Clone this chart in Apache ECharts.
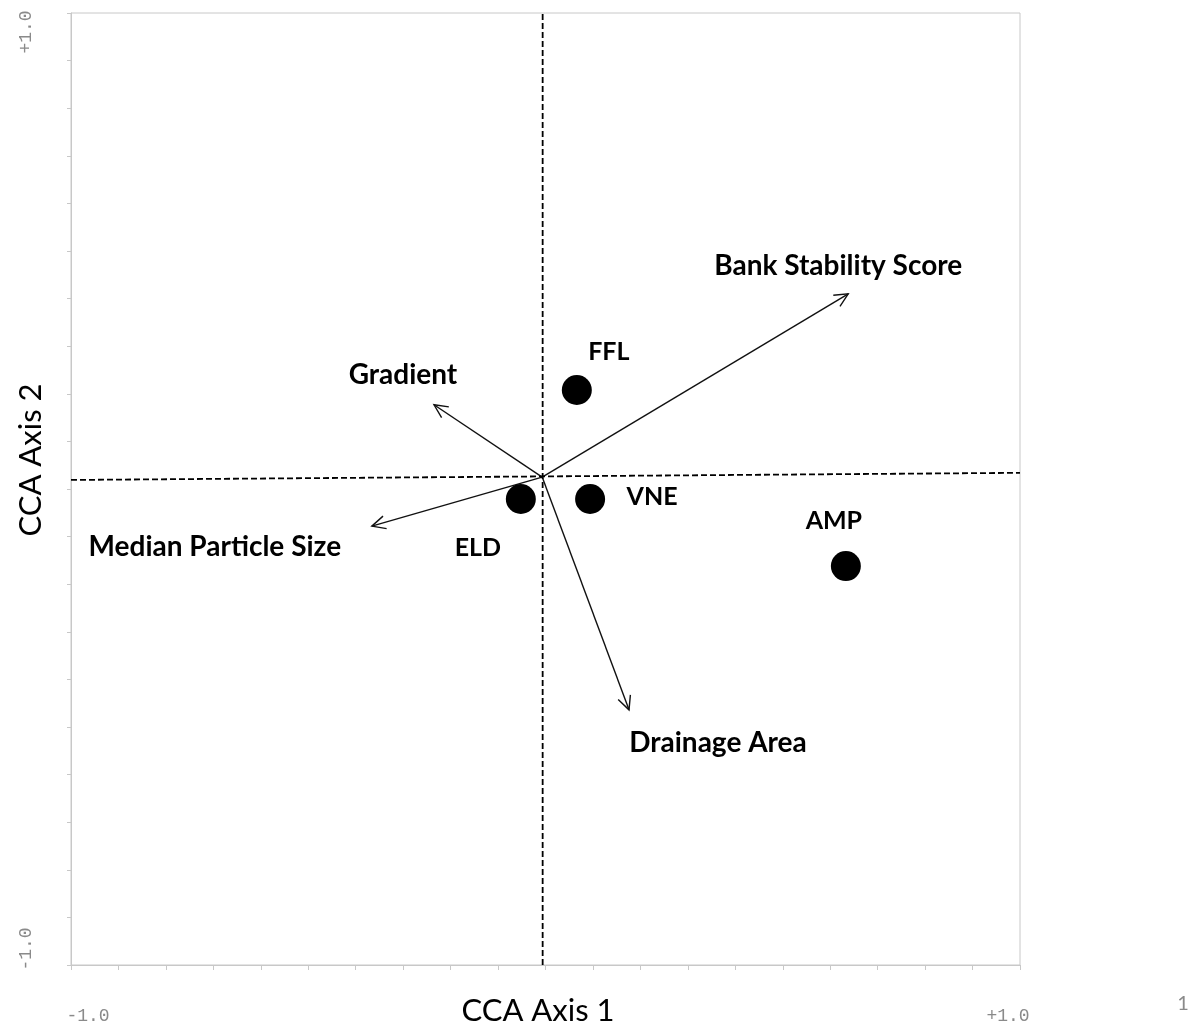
<!DOCTYPE html>
<html>
<head>
<meta charset="utf-8">
<title>CCA biplot</title>
<script src="https://cdn.jsdelivr.net/npm/echarts@6/dist/echarts.min.js"></script>
<style>
  html, body { margin: 0; padding: 0; background: #fff; }
  #chart { width: 1193px; height: 1028px; }
</style>
</head>
<body>
<div id="chart"></div>
<script>
// Site scores (CCA axis 1, CCA axis 2)
const siteNames = ['FFL', 'ELD', 'VNE', 'AMP'];
const siteX = [0.066, -0.052, 0.094, 0.633];
const siteY = [0.208, -0.021, -0.021, -0.162];

// Environmental vectors: common origin and arrow tips
const vectorOrigin = [-0.007, 0.025];
const vectorNames = ['Bank Stability Score', 'Gradient', 'Median Particle Size', 'Drainage Area'];
const vectorX = [0.638, -0.235, -0.366, 0.176];
const vectorY = [0.410, 0.177, -0.078, -0.464];

// Reference lines through the origin (dashed)
const vLineX = [-0.006, -0.006];
const vLineY = [-1, 1];
const hLineX = [-1, 1];
const hLineY = [0.019, 0.034];

// Axis ranges and end labels
const axisMin = -1;
const axisMax = 1;
const axisStep = 0.1;
const xEndLabels = ['-1.0', '+1.0'];
const yEndLabels = ['-1.0', '+1.0'];
const axisTitles = ['CCA Axis 1', 'CCA Axis 2'];
const pageNumber = '1';

// Label placement (pixel offsets from the mark centre / arrow tip)
const siteLabelOffset = {
  FFL: [32, -38], ELD: [-43, 49], VNE: [62, -2], AMP: [-12, -45]
};
const vectorLabelOffset = {
  'Bank Stability Score': [-10, -28],
  'Gradient': [-31, -30],
  'Median Particle Size': [-157, 21],
  'Drainage Area': [89, 33]
};

const chart = echarts.init(document.getElementById('chart'), null, { renderer: 'canvas' });

const labelFont = 'Lato, "Open Sans", sans-serif';
const monoFont = '"Liberation Mono", "DejaVu Sans Mono", monospace';

const vectorData = vectorNames.map((n, i) => [vectorOrigin[0], vectorOrigin[1], vectorX[i], vectorY[i], n]);
const siteData = siteNames.map((n, i) => ({
  name: n,
  value: [siteX[i], siteY[i]],
  label: { offset: siteLabelOffset[n] }
}));

const option = {
  animation: false,
  backgroundColor: '#ffffff',
  grid: {
    left: 71, right: 173, top: 13, bottom: 63,
    show: true, borderColor: '#c8c8c8', borderWidth: 1, backgroundColor: 'transparent'
  },
  xAxis: {
    type: 'value', min: axisMin, max: axisMax, interval: axisStep,
    axisLine: { show: true, onZero: false, lineStyle: { color: '#c8c8c8', width: 1 } },
    axisTick: { show: true, inside: false, length: 5, lineStyle: { color: '#c8c8c8' } },
    axisLabel: { show: false },
    splitLine: { show: false }
  },
  yAxis: {
    type: 'value', min: axisMin, max: axisMax, interval: axisStep,
    axisLine: { show: true, onZero: false, lineStyle: { color: '#c8c8c8', width: 1 } },
    axisTick: { show: true, inside: false, length: 4, lineStyle: { color: '#c8c8c8' } },
    axisLabel: { show: false },
    splitLine: { show: false }
  },
  series: [
    {
      type: 'line', data: vLineX.map((x, i) => [x, vLineY[i]]),
      symbol: 'none', silent: true,
      lineStyle: { color: '#000', width: 1.8, type: [6, 3] }
    },
    {
      type: 'line', data: hLineX.map((x, i) => [x, hLineY[i]]),
      symbol: 'none', silent: true,
      lineStyle: { color: '#000', width: 1.8, type: [6, 3] }
    },
    {
      // Vectors with open arrowheads and their names
      type: 'custom',
      data: vectorData,
      renderItem: function (params, api) {
        const p0 = api.coord([api.value(0), api.value(1)]);
        const p1 = api.coord([api.value(2), api.value(3)]);
        const name = vectorNames[params.dataIndex];
        const ang = Math.atan2(p1[1] - p0[1], p1[0] - p0[0]);
        const L = 15, spread = Math.PI / 7;
        const a1 = [p1[0] - L * Math.cos(ang - spread), p1[1] - L * Math.sin(ang - spread)];
        const a2 = [p1[0] - L * Math.cos(ang + spread), p1[1] - L * Math.sin(ang + spread)];
        const off = vectorLabelOffset[name];
        return {
          type: 'group',
          children: [
            { type: 'line', shape: { x1: p0[0], y1: p0[1], x2: p1[0], y2: p1[1] },
              style: { stroke: '#111', lineWidth: 1.4 } },
            { type: 'polyline', shape: { points: [a1, p1, a2] },
              style: { stroke: '#111', lineWidth: 1.4, fill: null } },
            { type: 'text',
              style: { x: p1[0] + off[0], y: p1[1] + off[1], text: name,
                       fill: '#000', font: 'bold 28px ' + labelFont,
                       align: 'center', verticalAlign: 'middle' } }
          ]
        };
      },
      z: 3
    },
    {
      type: 'scatter',
      data: siteData,
      symbol: 'circle', symbolSize: 30,
      itemStyle: { color: '#000', opacity: 1 },
      emphasis: { disabled: true },
      label: {
        show: true,
        formatter: p => p.name,
        position: 'inside',
        color: '#000', fontWeight: 'bold', fontSize: 25, fontFamily: labelFont
      },
      z: 4
    }
  ],
  graphic: [
    { type: 'text', x: 538, y: 1011,
      style: { text: axisTitles[0], font: '31px ' + labelFont, fill: '#000',
               align: 'center', verticalAlign: 'middle' } },
    { type: 'text', x: 31, y: 460, rotation: Math.PI / 2,
      style: { text: axisTitles[1], font: '31px ' + labelFont, fill: '#000',
               align: 'center', verticalAlign: 'middle' } },
    { type: 'text', x: 88, y: 1016,
      style: { text: xEndLabels[0], font: '18px ' + monoFont, fill: '#8a8a8a',
               align: 'center', verticalAlign: 'middle' } },
    { type: 'text', x: 1008, y: 1016,
      style: { text: xEndLabels[1], font: '18px ' + monoFont, fill: '#8a8a8a',
               align: 'center', verticalAlign: 'middle' } },
    { type: 'text', x: 26, y: 32, rotation: Math.PI / 2,
      style: { text: yEndLabels[1], font: '18px ' + monoFont, fill: '#8a8a8a',
               align: 'center', verticalAlign: 'middle' } },
    { type: 'text', x: 26, y: 949, rotation: Math.PI / 2,
      style: { text: yEndLabels[0], font: '18px ' + monoFont, fill: '#8a8a8a',
               align: 'center', verticalAlign: 'middle' } },
    { type: 'text', x: 1183, y: 1004,
      style: { text: pageNumber, font: '20px ' + labelFont, fill: '#8a8a8a',
               align: 'center', verticalAlign: 'middle' } }
  ]
};

chart.setOption(option);
</script>
</body>
</html>
